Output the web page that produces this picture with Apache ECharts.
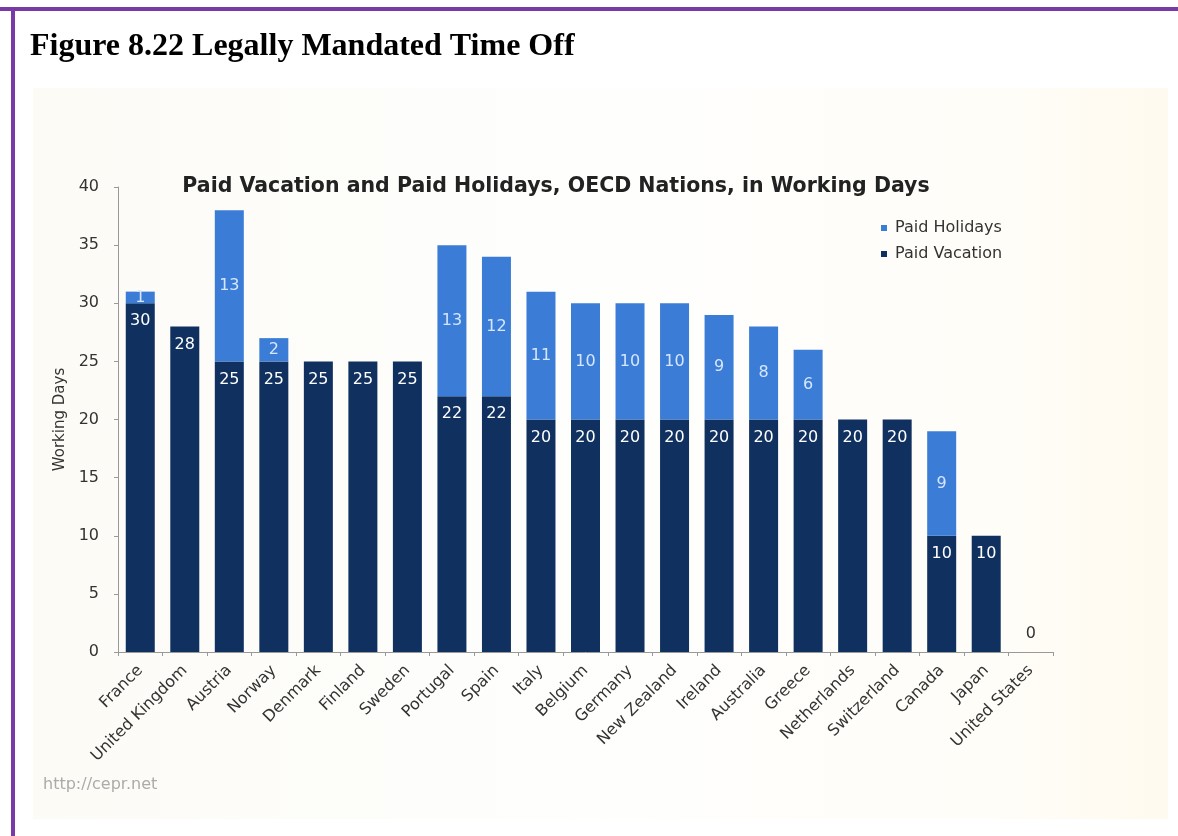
<!DOCTYPE html>
<html>
<head>
<meta charset="utf-8">
<script src="https://cdn.jsdelivr.net/npm/echarts@6/dist/echarts.min.js"></script>
<style>
html,body{margin:0;padding:0;background:#ffffff;}
#chart{width:1178px;height:836px;}
</style>
</head>
<body>
<div id="chart"></div>
<script>
const countries = ['France','United Kingdom','Austria','Norway','Denmark','Finland','Sweden','Portugal','Spain','Italy','Belgium','Germany','New Zealand','Ireland','Australia','Greece','Netherlands','Switzerland','Canada','Japan','United States'];
const paidVacation = [30,28,25,25,25,25,25,22,22,20,20,20,20,20,20,20,20,20,10,10,0];
const paidHolidays = [1,0,13,2,0,0,0,13,12,11,10,10,10,9,8,6,0,0,9,0,0];
const yTicks = {min:0, max:40, interval:5};

const chart = echarts.init(document.getElementById('chart'));
const font = 'DejaVu Sans, Verdana, sans-serif';

const vacData = paidVacation.map(v => v === 0
  ? {value: v, label: {position: 'top', color: '#333', distance: 10}}
  : v);

chart.setOption({
  backgroundColor: '#ffffff',
  animation: false,
  graphic: [
    {type:'rect', shape:{x:33, y:88, width:1135, height:731}, z:-10,
     style:{fill:{type:'linear', x:0, y:0, x2:1, y2:0, colorStops:[
       {offset:0, color:'#fcfbf6'}, {offset:0.5, color:'#fefefd'}, {offset:0.85, color:'#fffdf8'}, {offset:1, color:'#fffaef'}]}}},
    {type:'rect', shape:{x:0, y:7, width:1178, height:4}, style:{fill:'#7a3aa6'}},
    {type:'rect', shape:{x:11, y:7, width:4, height:829}, style:{fill:'#7a3aa6'}},
    {type:'text', x:30, y:47, style:{text:'Figure 8.22 Legally Mandated Time Off', font:'bold 32px "Liberation Serif", "Times New Roman", serif', fill:'#000', textVerticalAlign:'middle'}},
    {type:'text', x:556, y:187, style:{text:'Paid Vacation and Paid Holidays, OECD Nations, in Working Days', font:'bold 20.5px ' + font, fill:'#222', textAlign:'center', textVerticalAlign:'middle'}},
    {type:'text', x:43, y:785, style:{text:'http://cepr.net', font:'16px ' + font, fill:'#ababab', textVerticalAlign:'middle'}}
  ],
  legend: {
    data: ['Paid Holidays','Paid Vacation'],
    orient: 'vertical', left: 876, top: 215,
    icon: 'rect', itemWidth: 6, itemHeight: 6, itemGap: 10,
    textStyle: {fontFamily: font, fontSize: 16, color: '#333', padding: [0,0,0,3]}
  },
  grid: {left: 118, right: 125, top: 187, bottom: 184, containLabel: false},
  xAxis: {
    type: 'category', data: countries,
    axisLine: {lineStyle: {color: '#999'}},
    axisTick: {show: true, length: 4, lineStyle: {color: '#999'}},
    axisLabel: {rotate: 45, fontFamily: font, fontSize: 16, color: '#333', margin: 16, interval: 0}
  },
  yAxis: {
    type: 'value', min: yTicks.min, max: yTicks.max, interval: yTicks.interval,
    name: 'Working Days', nameLocation: 'middle', nameGap: 46, nameRotate: 90,
    nameTextStyle: {fontFamily: font, fontSize: 15, color: '#333'},
    axisLine: {show: true, lineStyle: {color: '#999'}},
    axisTick: {show: true, length: 4, lineStyle: {color: '#999'}},
    axisLabel: {fontFamily: font, fontSize: 16, color: '#333', margin: 19},
    splitLine: {show: false}
  },
  series: [
    {
      name: 'Paid Vacation', type: 'bar', stack: 'total', barWidth: 29,
      data: vacData,
      itemStyle: {color: '#10315f'},
      label: {show: true, position: 'insideTop', distance: 10, color: '#ffffff', fontFamily: font, fontSize: 16}
    },
    {
      name: 'Paid Holidays', type: 'bar', stack: 'total', barWidth: 29,
      data: paidHolidays,
      itemStyle: {color: '#3b7dd6'},
      label: {show: true, position: 'inside', color: '#d6e6ff', fontFamily: font, fontSize: 16,
        formatter: p => p.value > 0 ? String(p.value) : ''}
    }
  ]
});
</script>
</body>
</html>
